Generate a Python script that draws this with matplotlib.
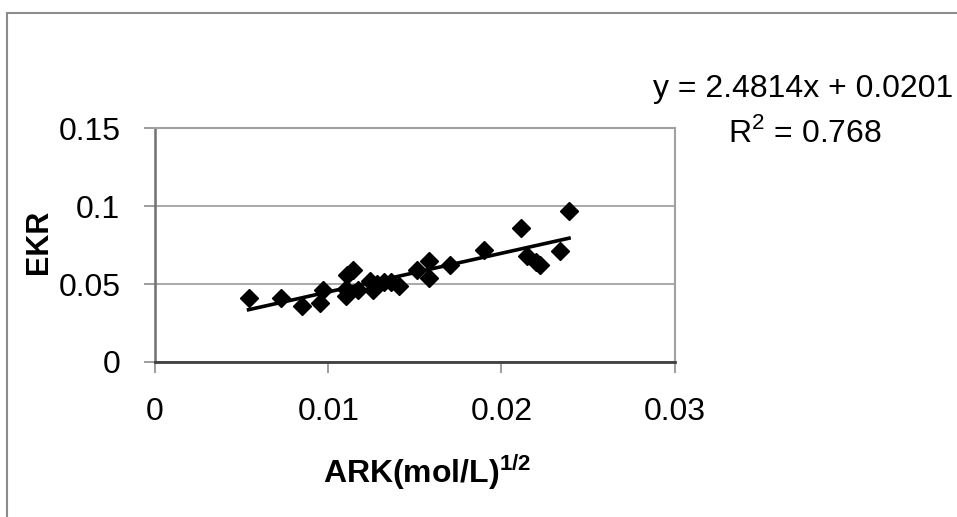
import numpy as np
import matplotlib
matplotlib.use('Agg')
import matplotlib.pyplot as plt
from matplotlib.ticker import FuncFormatter
from matplotlib.patches import Rectangle

plt.rcParams['font.family'] = ['Liberation Sans', 'DejaVu Sans']
plt.rcParams['mathtext.fontset'] = 'custom'
plt.rcParams['mathtext.rm'] = 'Liberation Sans'
plt.rcParams['mathtext.bf'] = 'Liberation Sans:bold'

# data
ark = [0.0054, 0.0073, 0.0085, 0.0095, 0.0097, 0.0110, 0.0110, 0.0111,
       0.0114, 0.0117, 0.0124, 0.0126, 0.0128, 0.0132, 0.0136, 0.0141,
       0.0151, 0.0158, 0.0158, 0.0170, 0.0190, 0.0211, 0.0215, 0.0220,
       0.0222, 0.0234, 0.0239]
ekr = [0.041, 0.041, 0.036, 0.038, 0.046, 0.047, 0.042, 0.056,
       0.059, 0.046, 0.052, 0.046, 0.050, 0.051, 0.051, 0.049,
       0.059, 0.065, 0.054, 0.062, 0.072, 0.086, 0.068, 0.064,
       0.062, 0.071, 0.097]
slope, intercept, r2 = 2.4814, 0.0201, 0.768

x_ticks = [0, 0.01, 0.02, 0.03]
y_ticks = [0, 0.05, 0.1, 0.15]

fig = plt.figure(figsize=(9.57, 5.17), dpi=100)
ax = fig.add_axes([0.162, 0.300, 0.543, 0.452])

gray = '#8c8c8c'
fs = 23
ax.set_xlim(0, 0.03)
ax.set_ylim(0, 0.15)
ax.set_xticks(x_ticks)
ax.set_yticks(y_ticks)
fmt = FuncFormatter(lambda v, p: '%g' % v)
ax.xaxis.set_major_formatter(fmt)
ax.yaxis.set_major_formatter(fmt)
ax.tick_params(axis='both', labelsize=fs, length=8, width=1.2, color=gray, pad=17)
ax.grid(axis='y', color='#9a9a9a', linewidth=1.2)
ax.set_axisbelow(True)
for side in ['top', 'right']:
    ax.spines[side].set_color('#a0a0a0')
    ax.spines[side].set_linewidth(1.5)
ax.spines['left'].set_color('#707070')
ax.spines['left'].set_linewidth(1.8)
ax.spines['bottom'].set_color('#404040')
ax.spines['bottom'].set_linewidth(2)

ax.plot(ark, ekr, 'kD', markersize=9, zorder=3)
xs = np.array([min(ark), max(ark)])
ax.plot(xs, slope * xs + intercept, 'k-', linewidth=2.6, zorder=4)

ax.set_xlabel(r'ARK(mol/L)$^{\mathbf{1/2}}$', fontsize=fs, fontweight='bold', va='baseline')
ax.xaxis.set_label_coords(0.523, -0.518)
ax.set_ylabel('EKR', fontsize=22, fontweight='bold', va='center')
ax.yaxis.set_label_coords(-0.223, 0.513)

# trendline label, kept just inside the right edge
fig.text(0.839, 1 - 97 / 517, 'y = %.4fx + %.4f' % (slope, intercept),
         ha='center', va='baseline', fontsize=fs)
fig.text(0.841, 1 - 142 / 517, r'R$^2$ = %g' % r2,
         ha='center', va='baseline', fontsize=fs)

# outer chart frame
fig.patches.append(Rectangle((7 / 957, -0.2), 1.2, 1.2 - 13 / 517,
                             transform=fig.transFigure, fill=False,
                             edgecolor=gray, linewidth=1.5))

fig.savefig('out.png', dpi=100)
